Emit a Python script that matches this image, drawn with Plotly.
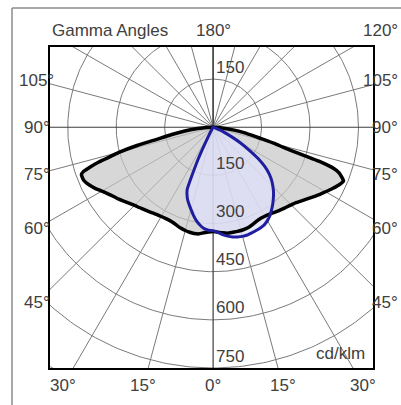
import numpy as np
import plotly.graph_objects as go

# Gamma angles (degrees from nadir) at which the intensities are tabulated
gamma = [0, 2.5, 5, 7.5, 10, 12.5, 15, 17.5, 20, 22.5, 25, 27.5, 30, 32.5, 35,
         37.5, 40, 42.5, 45, 47.5, 50, 52.5, 55, 57.5, 60, 62.5, 65, 67.5, 70,
         71, 72, 73, 74, 75, 76.5, 77.5, 80, 82.5, 85, 87.5, 90]

# Luminous intensity, cd/klm
plane_c0 = [325, 327, 330, 333, 333, 333, 333, 332, 330, 326, 322, 320, 320,
            322, 325, 329, 333, 337, 342, 348, 357, 367, 378, 390, 402, 415,
            428, 437, 415, 395, 350, 268, 225, 198, 155, 135, 97, 62, 33, 12, 0]
plane_c180 = [325, 327, 330, 335, 336, 335, 333, 330, 326, 322, 320, 320, 321,
              323, 326, 330, 334, 339, 344, 351, 359, 368, 376, 386, 398, 412,
              424, 433, 434, 425, 400, 370, 330, 300, 240, 190, 130, 85, 48,
              20, 0]
plane_c90 = [322, 328, 336, 342, 347, 350, 352, 352, 350, 348, 346, 343, 336,
             327, 315, 303, 290, 277, 262, 246, 227, 202, 170, 132, 98, 65, 38,
             20, 10, 8, 6, 5, 4, 2, 1, 0, 0, 0, 0, 0, 0]
plane_c270 = [322, 321, 317, 308, 296, 281, 265, 250, 234, 210, 110, 30, 8, 3,
              1, 0, 0, 0, 0, 0, 0, 0, 0, 0, 0, 0, 0, 0, 0, 0, 0, 0, 0, 0, 0,
              0, 0, 0, 0, 0, 0]

# Grid: intensity rings and gamma spokes
ring_values = [150, 300, 450, 600, 750, 900]
ring_labels = ["150", "300", "450", "600", "750"]
spoke_angles = list(range(-180, 181, 15))

# Angle labels around the frame (negative = left half)
edge_angles = [-105, -90, -75, -60, -45, -30, -15, 0, 15, 30, 45, 60, 75, 90,
               105, 120, 180]
edge_texts = ["105°", "90°", "75°", "60°", "45°", "30°", "15°", "0°", "15°",
              "30°", "45°", "60°", "75°", "90°", "105°", "120°", "180°"]

X_RANGE = [-505, 495]
Y_RANGE = [-750, 250]
LABEL_BOX = dict(left=-546, right=546, top=300, bottom=-805)

WIDTH, HEIGHT = 401, 405
MARGIN = dict(l=50, r=28, t=47, b=37)
PLOT_W = WIDTH - MARGIN["l"] - MARGIN["r"]

FONT = "Liberation Sans, Arial, sans-serif"
FONT_SIZE = 17
TEXT_COLOR = "#404040"
GRID_COLOR = "#7a7a7a"

g = np.radians(gamma)


def to_paper(x, y):
    return ((x - X_RANGE[0]) / (X_RANGE[1] - X_RANGE[0]),
            (y - Y_RANGE[0]) / (Y_RANGE[1] - Y_RANGE[0]))


def outline(right, left):
    r = np.asarray(right, dtype=float)
    l = np.asarray(left, dtype=float)
    xr, yr = r * np.sin(g), -r * np.cos(g)
    xl, yl = -l * np.sin(g), -l * np.cos(g)
    x = np.concatenate([xr[::-1], xl[1:]])
    y = np.concatenate([yr[::-1], yl[1:]])
    return x, y


fig = go.Figure()

# grid rings
t = np.linspace(0, 2 * np.pi, 361)
for rv in ring_values:
    fig.add_trace(go.Scatter(x=rv * np.cos(t), y=rv * np.sin(t), mode="lines",
                             line=dict(color=GRID_COLOR, width=1),
                             hoverinfo="skip", showlegend=False))

# grid spokes
for a in spoke_angles:
    ar = np.radians(a)
    main = a % 90 == 0
    fig.add_trace(go.Scatter(x=[0, 3000 * np.sin(ar)], y=[0, -3000 * np.cos(ar)],
                             mode="lines",
                             line=dict(color="#3c3c3c" if main else GRID_COLOR,
                                       width=1.2 if main else 1),
                             hoverinfo="skip", showlegend=False))

bx, by = outline(plane_c0, plane_c180)
ux, uy = outline(plane_c90, plane_c270)

# filled areas
fig.add_trace(go.Scatter(x=bx, y=by, mode="none", fill="toself",
                         fillcolor="rgba(198,198,198,0.7)",
                         hoverinfo="skip", showlegend=False))
fig.add_trace(go.Scatter(x=ux, y=uy, mode="none", fill="toself",
                         fillcolor="rgba(225,225,255,0.7)",
                         hoverinfo="skip", showlegend=False))

# curves
fig.add_trace(go.Scatter(x=bx, y=by, mode="lines", name="C0-C180",
                         line=dict(color="#000000", width=3.5, shape="spline",
                                   smoothing=0.4),
                         showlegend=False))
fig.add_trace(go.Scatter(x=ux, y=uy, mode="lines", name="C90-C270",
                         line=dict(color="#1e1e9e", width=3, shape="spline",
                                   smoothing=0.4),
                         showlegend=False))

annotations = []

# ring value labels
for rv, txt in zip(ring_values, ring_labels):
    px, py = to_paper(0, -rv)
    annotations.append(dict(x=px, y=py, text=txt, xanchor="left",
                            yanchor="middle", xshift=1, yshift=12))
px, py = to_paper(0, ring_values[0])
annotations.append(dict(x=px, y=py, text=ring_labels[0], xanchor="left",
                        yanchor="middle", xshift=1, yshift=12))

# gamma angle labels where each spoke meets the label box
right_limit = (WIDTH - 1 - MARGIN["l"]) / PLOT_W
for a, txt in zip(edge_angles, edge_texts):
    ar = np.radians(a)
    dx, dy = np.sin(ar), -np.cos(ar)
    cand = []
    if dx > 1e-9:
        cand.append(LABEL_BOX["right"] / dx)
    if dx < -1e-9:
        cand.append(LABEL_BOX["left"] / dx)
    if dy > 1e-9:
        cand.append(LABEL_BOX["top"] / dy)
    if dy < -1e-9:
        cand.append(LABEL_BOX["bottom"] / dy)
    tt = min(cand)
    px, py = to_paper(tt * dx, tt * dy)
    half_w = 0.5 * FONT_SIZE * (0.556 * (len(txt) - 1) + 0.4) / PLOT_W
    if px + half_w > right_limit:
        annotations.append(dict(x=right_limit, y=py, text=txt,
                                xanchor="right", yanchor="middle"))
    else:
        annotations.append(dict(x=px, y=py, text=txt, xanchor="center",
                                yanchor="middle"))

_, py = to_paper(0, LABEL_BOX["top"])
annotations.append(dict(x=0, y=py, text="Gamma Angles", xanchor="left",
                        yanchor="middle"))
annotations.append(dict(x=0.981, y=0.044, text="cd/klm", xanchor="right",
                        yanchor="middle"))

for an in annotations:
    an.update(xref="paper", yref="paper", showarrow=False,
              font=dict(family=FONT, size=FONT_SIZE, color=TEXT_COLOR))

axis_common = dict(showgrid=False, zeroline=False, showticklabels=False,
                   ticks="", showline=True, mirror=True, linecolor="#000000",
                   linewidth=2, fixedrange=True)

fig.update_layout(
    width=WIDTH, height=HEIGHT,
    margin=MARGIN,
    paper_bgcolor="#ffffff", plot_bgcolor="#ffffff",
    xaxis=dict(range=X_RANGE, **axis_common),
    yaxis=dict(range=Y_RANGE, **axis_common),
    annotations=annotations,
    shapes=[
        dict(type="line", xref="paper", yref="paper", x0=-0.1176, x1=-0.1176,
             y0=-0.25, y1=1.1215, line=dict(color="#8c8c8c", width=1.5)),
        dict(type="line", xref="paper", yref="paper", x0=-0.1176, x1=1.3,
             y0=1.1215, y1=1.1215, line=dict(color="#8c8c8c", width=1.5)),
    ],
)

fig.write_html("out.html")
